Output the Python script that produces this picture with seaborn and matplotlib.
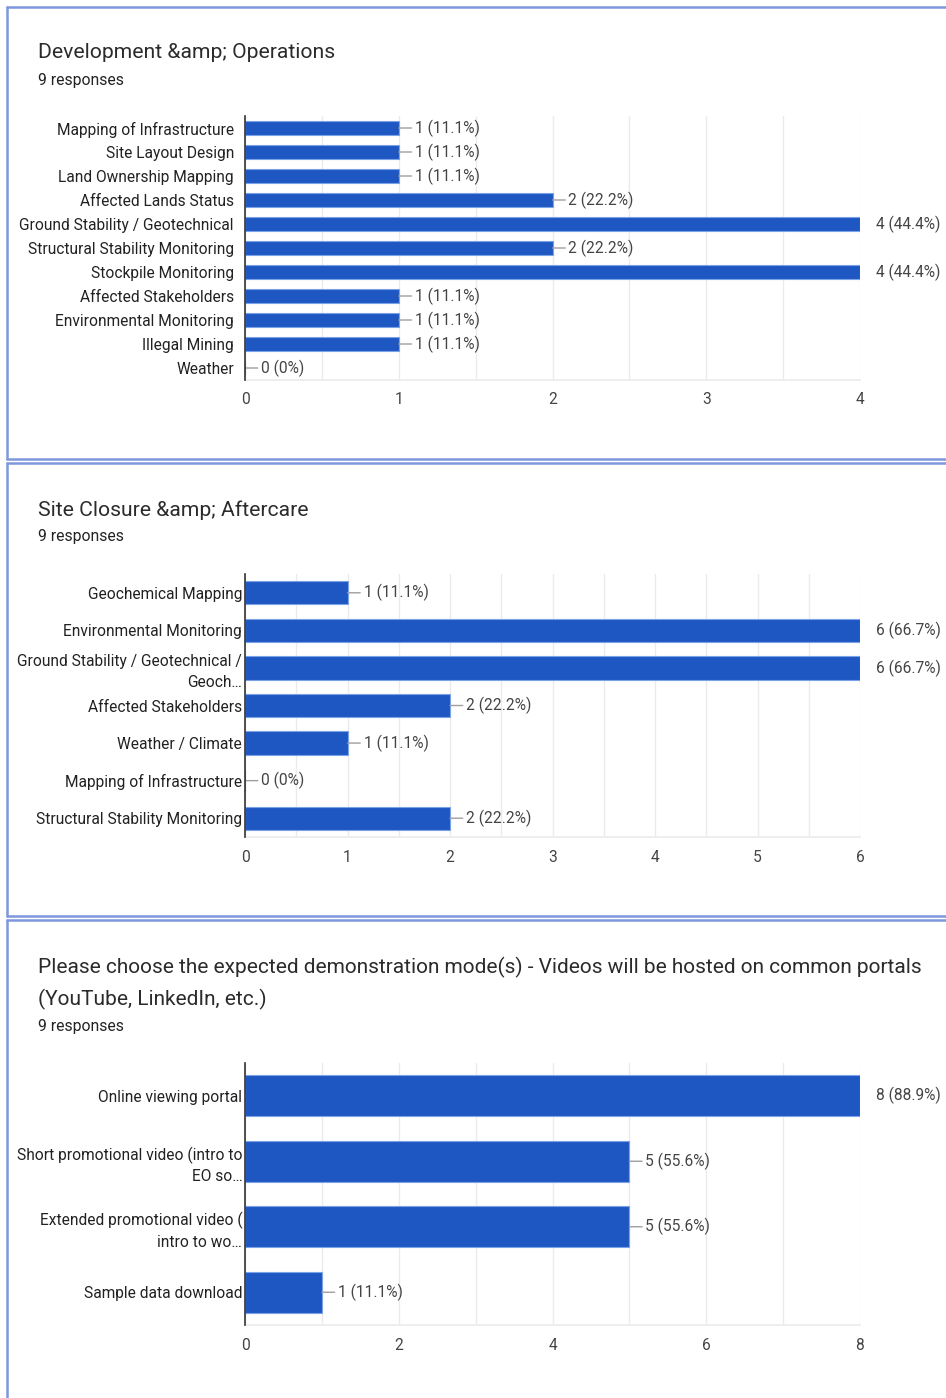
import matplotlib
matplotlib.use("Agg")
import matplotlib.pyplot as plt
from matplotlib.lines import Line2D
from matplotlib.ticker import MultipleLocator
import seaborn as sns

# ---- survey data ----
n_responses = 9

dev_title = "Development &amp; Operations"
dev_categories = [
    "Mapping of Infrastructure", "Site Layout Design", "Land Ownership Mapping",
    "Affected Lands Status", "Ground Stability / Geotechnical",
    "Structural Stability Monitoring", "Stockpile Monitoring",
    "Affected Stakeholders", "Environmental Monitoring", "Illegal Mining", "Weather",
]
dev_counts = [1, 1, 1, 2, 4, 2, 4, 1, 1, 1, 0]

closure_title = "Site Closure &amp; Aftercare"
closure_categories = [
    "Geochemical Mapping", "Environmental Monitoring",
    "Ground Stability / Geotechnical /\nGeoch\u2026", "Affected Stakeholders",
    "Weather / Climate", "Mapping of Infrastructure", "Structural Stability Monitoring",
]
closure_counts = [1, 6, 6, 2, 1, 0, 2]

demo_title = ("Please choose the expected demonstration mode(s) - Videos will be hosted on common portals\n"
              "(YouTube, LinkedIn, etc.)")
demo_categories = [
    "Online viewing portal", "Short promotional video (intro to\nEO so\u2026",
    "Extended promotional video (\nintro to wo\u2026", "Sample data download",
]
demo_counts = [8, 5, 5, 1]

# ---- styling ----
sns.set_theme(style="white")
plt.rcParams["font.family"] = ["Roboto", "DejaVu Sans"]

W, H = 946, 1398
BAR = "#1e56c2"
EDGE = "#7aa2e6"
GRID = "#ebebeb"
FRAME = "#7d98dc"
TXT = "#222222"
TITLE = "#2b2b2b"
SUB = "#444444"
FS = 11.2

fig = plt.figure(figsize=(W / 100, H / 100), dpi=100)
fig.patch.set_facecolor("white")


def fx(px):
    return px / W


def fy(py):
    return 1 - py / H


def frame(top, bottom):
    # card outline: top, left and bottom edges (the right edge runs off the page)
    kw = dict(color=FRAME, lw=1.8, transform=fig.transFigure)
    fig.add_artist(Line2D([fx(7), 1.0], [fy(top), fy(top)], **kw))
    fig.add_artist(Line2D([fx(7), fx(7)], [fy(top), fy(bottom)], **kw))
    if bottom < H:
        fig.add_artist(Line2D([fx(7), 1.0], [fy(bottom), fy(bottom)], **kw))


def label(p):
    return "0%" if p == 0 else f"{p:.1f}%"


def panel(top_px, bot_px, cats, counts, xmax, major, minor, ypad):
    ax = fig.add_axes([fx(245), fy(bot_px), fx(860) - fx(245), fy(top_px) - fy(bot_px)])
    sns.barplot(x=counts, y=cats, orient="h", color=BAR, saturation=1,
                width=0.62, edgecolor=EDGE, linewidth=0.8, ax=ax, zorder=3)
    ax.set_xlim(0, xmax)
    ax.xaxis.set_major_locator(MultipleLocator(major))
    ax.xaxis.set_minor_locator(MultipleLocator(minor))
    ax.grid(True, axis="x", which="both", color=GRID, lw=1, zorder=0)
    ax.grid(False, axis="y")
    for s in ("top", "right"):
        ax.spines[s].set_visible(False)
    ax.spines["bottom"].set_color(GRID)
    ax.spines["bottom"].set_linewidth(1.2)
    ax.spines["left"].set_color("#333333")
    ax.spines["left"].set_linewidth(1.2)
    ax.spines["left"].set_zorder(5)
    ax.tick_params(axis="x", which="both", length=0, pad=9, labelsize=FS, labelcolor=SUB)
    ax.tick_params(axis="y", length=0, pad=ypad, labelsize=FS, labelcolor=TXT)
    for t in ax.get_yticklabels():
        t.set_horizontalalignment("right")
        t.set_multialignment("right")
        t.set_linespacing(1.45)
    ax.set_xlabel("")
    ax.set_ylabel("")

    for i, v in enumerate(counts):
        txt = f"{v} ({label(100 * v / n_responses)})"
        if v >= xmax:
            ax.annotate(txt, xy=(xmax, i), xytext=(16, 0), textcoords="offset pixels",
                        va="center", ha="left", fontsize=FS, color=SUB,
                        annotation_clip=False)
        else:
            ax.annotate(txt, xy=(v, i), xytext=(16, 0), textcoords="offset pixels",
                        va="center", ha="left", fontsize=FS, color=SUB,
                        arrowprops=dict(arrowstyle="-", color="#9e9e9e", lw=1,
                                        shrinkA=0, shrinkB=0, relpos=(0, 0.5)))
    return ax


# ---- cards ----
frame(7, 459)
frame(463, 916)
frame(920, H + 10)

fig.text(fx(38), fy(52), dev_title, fontsize=15.2, color=TITLE, va="center", ha="left")
fig.text(fx(38), fy(80), f"{n_responses} responses", fontsize=11.3, color=TXT, va="center")
panel(116, 380, dev_categories, dev_counts, 4, 1, 0.5, 8)

fig.text(fx(38), fy(510), closure_title, fontsize=15.2, color=TITLE, va="center", ha="left")
fig.text(fx(38), fy(537), f"{n_responses} responses", fontsize=11.3, color=TXT, va="center")
panel(574, 837, closure_categories, closure_counts, 6, 1, 0.5, 2)

fig.text(fx(38), fy(983.5), demo_title, fontsize=15.0, color=TITLE, va="center", ha="left",
         linespacing=1.62)
fig.text(fx(38), fy(1026), f"{n_responses} responses", fontsize=11.3, color=TXT, va="center")
panel(1063, 1325, demo_categories, demo_counts, 8, 2, 1, 2)

fig.savefig("out.png", dpi=100, facecolor="white")
